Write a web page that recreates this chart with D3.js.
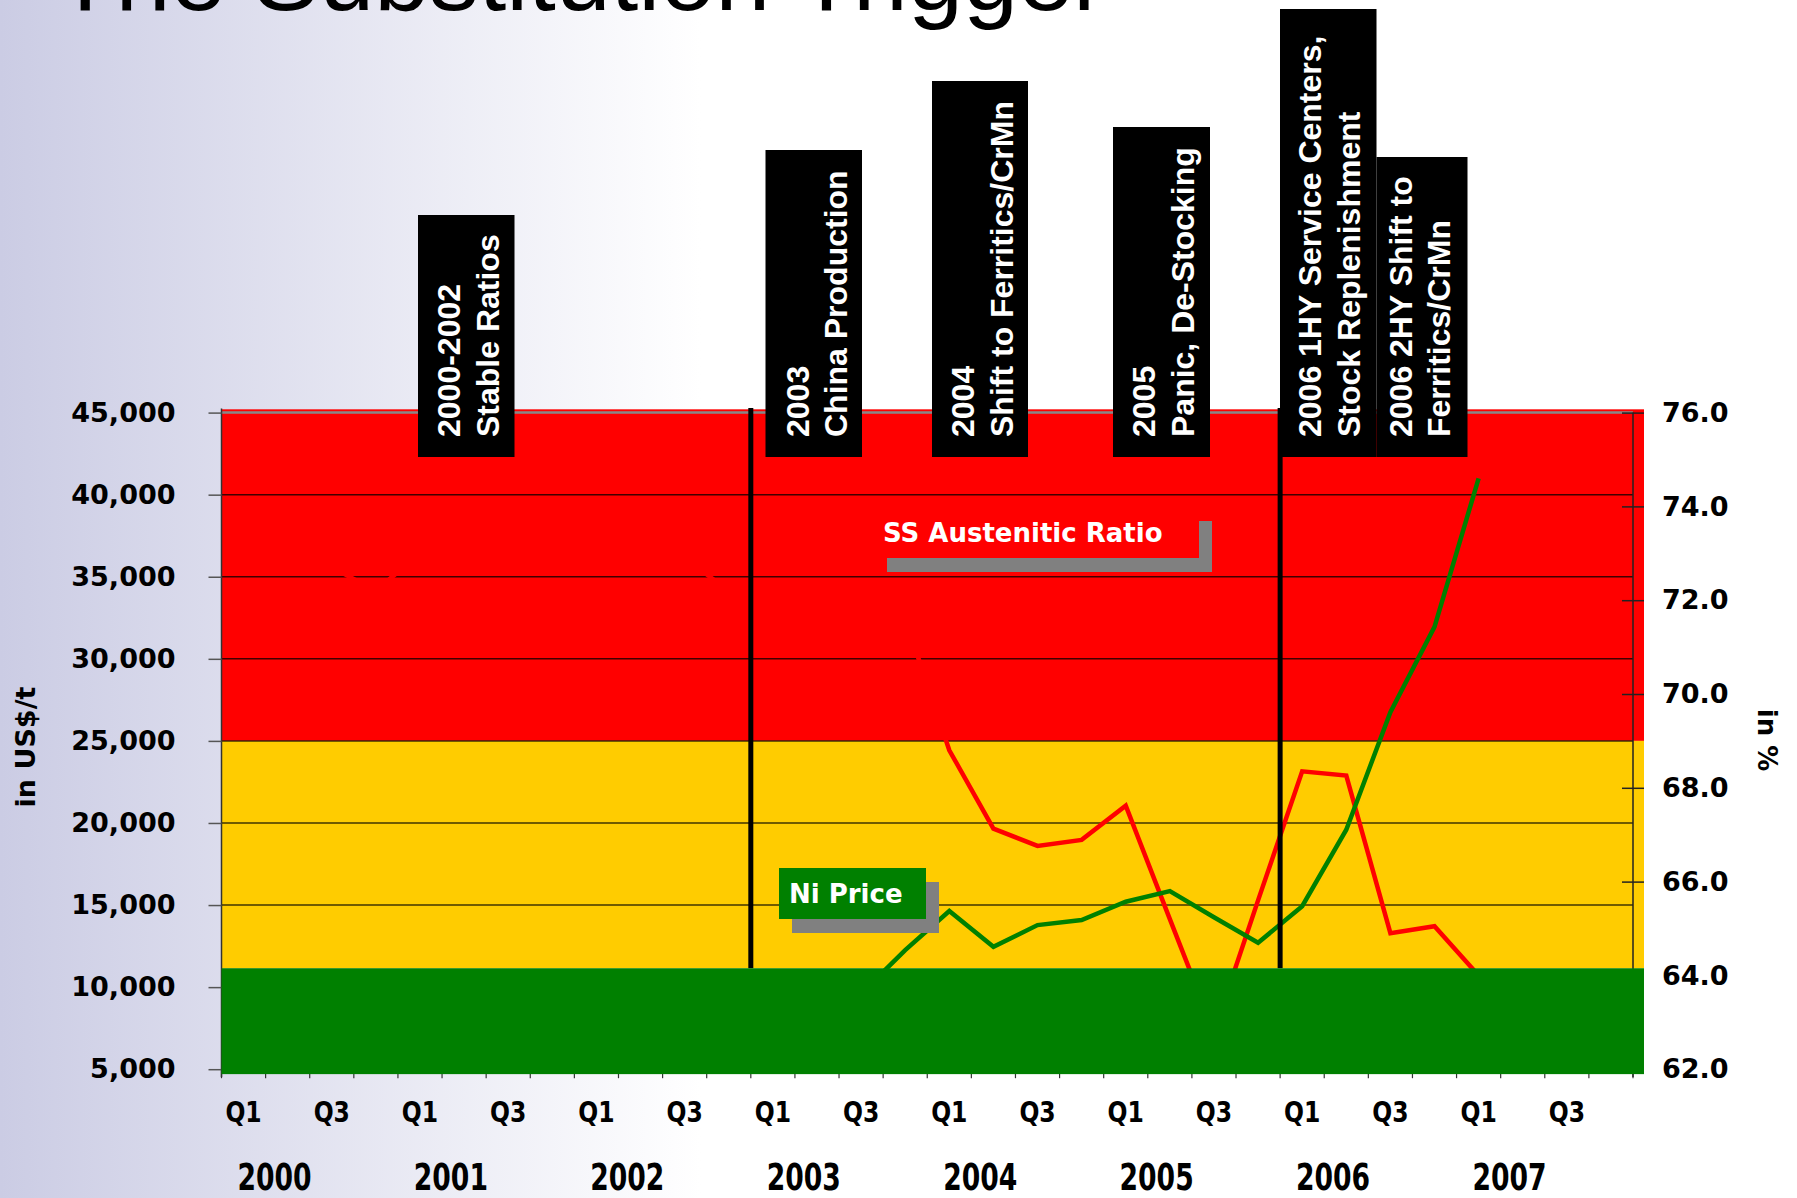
<!DOCTYPE html>
<html>
<head>
<meta charset="utf-8">
<title>The Substitution Trigger</title>
<script src="https://cdn.jsdelivr.net/npm/d3@7"></script>
<style>
  html, body { margin: 0; padding: 0; overflow: hidden; background: #fff; }
  svg { display: block; }
</style>
</head>
<body>
<svg id="chart" width="1797" height="1198"></svg>
<script>
// ---- data ----
var years = ["2000", "2001", "2002", "2003", "2004", "2005", "2006", "2007"];
var quarters = ["Q1", "Q2", "Q3", "Q4"];
var periods = years.flatMap(function (y) { return quarters.map(function (q) { return y + " " + q; }); });

// Ni price, US$/t, 2000 Q1 .. 2007 Q1 (left axis)
var niPrice = [9800, 8900, 8200, 7300, 6500, 6800, 5800, 5200,
               6100, 6900, 6700, 7100, 8300, 8700, 9600, 12260,
               14640, 12460, 13780, 14090, 15200, 15850, 14260, 12700,
               14930, 19590, 26750, 31950, 40990];

// SS austenitic ratio, %, 2000 Q1 .. 2007 Q1 (right axis)
var ssRatio = [73.0, 72.9, 72.7, 72.2, 73.0, 73.0, 73.1, 72.9,
               73.0, 73.1, 72.9, 72.2, 71.9, 72.0, 71.8, 71.6,
               68.8, 67.13, 66.76, 66.89, 67.62, 65.2, 62.8, 65.6,
               68.35, 68.26, 64.9, 65.05, 64.0];

var leftTicks = [5000, 10000, 15000, 20000, 25000, 30000, 35000, 40000, 45000];
var rightTicks = [62, 64, 66, 68, 70, 72, 74, 76];

// traffic-light zones in US$/t
var zoneNames = ["red", "yellow", "green"];
var zoneFrom = [25000, 11150, 4700];
var zoneTo = [45200, 25000, 11150];

var separators = ["2003 Q1", "2006 Q1"];

var notes = [
    ["2000-2002", "Stable Ratios"],
    ["2003", "China Production"],
    ["2004", "Shift to Ferritics/CrMn"],
    ["2005", "Panic, De-Stocking"],
    ["2006 1HY Service Centers,", "Stock Replenishment"],
    ["2006 2HY Shift to", "Ferritics/CrMn"]
];

// ---- layout ----
var W = 1797, H = 1198;
var plot = {left: 221.5, right: 1633, top: 412.6, bottom: 1069.2};
var zoneColor = {red: "#ff0000", yellow: "#ffcc00", green: "#008000"};
var noteBoxes = [
    {x: 418, y: 215, w: 96.5, off: 42},
    {x: 765.5, y: 150, w: 96.5, off: 43},
    {x: 932, y: 81, w: 96, off: 42},
    {x: 1113, y: 127, w: 97, off: 42},
    {x: 1280, y: 9, w: 96.5, off: 41},
    {x: 1376.5, y: 157, w: 91, off: 35}
];
var noteBottom = 457;

var svg = d3.select("#chart");

var x = d3.scaleBand().domain(periods).range([plot.left, plot.right]).padding(0);
var yL = d3.scaleLinear().domain([5000, 45000]).range([plot.bottom, plot.top]);
var yR = d3.scaleLinear().domain([62, 76]).range([plot.bottom, plot.top]);
var bw = x.bandwidth();

// background
var defs = svg.append("defs");
var grad = defs.append("linearGradient").attr("id", "bg")
    .attr("x1", "0").attr("x2", "1").attr("y1", "0").attr("y2", "0");
grad.append("stop").attr("offset", "0").attr("stop-color", "#cbcce4");
grad.append("stop").attr("offset", "0.39").attr("stop-color", "#ffffff");
svg.append("rect").attr("width", W).attr("height", H).attr("fill", "url(#bg)");

// title (cut off at the top)
svg.append("text")
    .attr("x", 55).attr("y", 10)
    .style("font-family", "'Liberation Sans', Arial, sans-serif")
    .style("font-size", "99px")
    .attr("fill", "#000")
    .text("The Substitution Trigger");

function zoneRect(g, i) {
    g.append("rect")
        .attr("x", plot.left)
        .attr("width", plot.right - plot.left + 11)
        .attr("y", yL(zoneTo[i]))
        .attr("height", yL(zoneFrom[i]) - yL(zoneTo[i]))
        .attr("fill", zoneColor[zoneNames[i]]);
}

var zones = svg.append("g");
zoneRect(zones, 0);
zoneRect(zones, 1);

// gridlines
svg.append("g").selectAll("line")
    .data(leftTicks)
    .enter().append("line")
    .attr("x1", plot.left).attr("x2", plot.right)
    .attr("y1", function (d) { return yL(d); })
    .attr("y2", function (d) { return yL(d); })
    .attr("stroke", function (d) { return d === 45000 ? "#888" : "#000"; })
    .attr("stroke-opacity", function (d) { return d === 45000 ? 1 : 0.75; })
    .attr("stroke-width", function (d) { return d === 45000 ? 2.5 : 1.5; });

// series
var lineL = d3.line()
    .x(function (d, i) { return x(periods[i]) + bw / 2; })
    .y(function (d) { return yL(d); });
var lineR = d3.line()
    .x(function (d, i) { return x(periods[i]) + bw / 2; })
    .y(function (d) { return yR(d); });

svg.append("path").datum(ssRatio)
    .attr("d", lineR)
    .attr("fill", "none").attr("stroke", "#ff0000").attr("stroke-width", 4.5);

svg.append("path").datum(niPrice)
    .attr("d", lineL)
    .attr("fill", "none").attr("stroke", "#008000").attr("stroke-width", 4.5);

// period separators
svg.append("g").selectAll("line")
    .data(separators)
    .enter().append("line")
    .attr("x1", function (d) { return x(d); })
    .attr("x2", function (d) { return x(d); })
    .attr("y1", 408).attr("y2", yL(zoneTo[2]))
    .attr("stroke", "#000").attr("stroke-width", 5);

// axes
var tickFont = "'DejaVu Sans', Verdana, sans-serif";
var gLeft = svg.append("g")
    .attr("transform", "translate(" + plot.left + ",0)")
    .call(d3.axisLeft(yL).tickValues(leftTicks).tickFormat(d3.format(","))
        .tickSizeInner(13).tickSizeOuter(0).tickPadding(33));
gLeft.select(".domain").attr("stroke", "#333").attr("stroke-width", 1.5)
    .attr("d", "M0," + (plot.top - 4) + "V1077");
gLeft.selectAll(".tick line").attr("stroke", "#555").attr("stroke-width", 1.5);
gLeft.selectAll(".tick text")
    .style("font-family", tickFont).style("font-weight", "bold").style("font-size", "27px")
    .attr("fill", "#000");

var gRight = svg.append("g")
    .attr("transform", "translate(" + plot.right + ",0)")
    .call(d3.axisRight(yR).tickValues(rightTicks).tickFormat(d3.format(".1f"))
        .tickSizeInner(11).tickSizeOuter(0).tickPadding(18));
gRight.select(".domain").attr("stroke", "#222").attr("stroke-width", 1.5)
    .attr("d", "M0," + plot.top + "V1077");
gRight.selectAll(".tick line").attr("x1", -11).attr("stroke", "#222").attr("stroke-width", 1.5);
gRight.selectAll(".tick text")
    .style("font-family", tickFont).style("font-weight", "bold").style("font-size", "27px")
    .attr("fill", "#000");

// bottom: ticks at quarter boundaries
svg.append("g").selectAll("line")
    .data(periods.concat(["end"]))
    .enter().append("line")
    .attr("x1", function (d) { return d === "end" ? plot.right : x(d); })
    .attr("x2", function (d) { return d === "end" ? plot.right : x(d); })
    .attr("y1", plot.bottom).attr("y2", plot.bottom + 9)
    .attr("stroke", "#333").attr("stroke-width", 1.2);

var narrowFont = "'DejaVu Sans Condensed', 'DejaVu Sans', sans-serif";
var gBottom = svg.append("g")
    .attr("transform", "translate(0," + plot.bottom + ")")
    .call(d3.axisBottom(x)
        .tickValues(periods.filter(function (p) { return /Q1|Q3/.test(p); }))
        .tickFormat(function (d) { return d.split(" ")[1]; })
        .tickSize(0).tickPadding(32));
gBottom.select(".domain").remove();
gBottom.selectAll(".tick text")
    .attr("transform", "scale(0.9,1)")
    .attr("x", function () { return 0; })
    .style("font-family", narrowFont).style("font-stretch", "condensed")
    .style("font-weight", "bold").style("font-size", "29px")
    .attr("fill", "#000");

svg.append("g").selectAll("text")
    .data(years)
    .enter().append("text")
    .attr("transform", function (d) {
        return "translate(" + (x(d + " Q1") + 1.2 * bw) + ",1190) scale(0.8,1)";
    })
    .attr("text-anchor", "middle")
    .style("font-family", narrowFont).style("font-stretch", "condensed")
    .style("font-weight", "bold").style("font-size", "37px")
    .attr("fill", "#000")
    .text(function (d) { return d; });

// green zone sits on top of the lines
zoneRect(svg.append("g"), 2);

// axis titles
svg.append("text")
    .attr("transform", "translate(35,747) rotate(-90)")
    .attr("text-anchor", "middle")
    .style("font-family", tickFont).style("font-weight", "bold").style("font-size", "27px")
    .text("in US$/t");
svg.append("text")
    .attr("transform", "translate(1758,740) rotate(90)")
    .attr("text-anchor", "middle")
    .style("font-family", tickFont).style("font-weight", "bold").style("font-size", "26px")
    .text("in %");

// event notes
var noteG = svg.append("g").selectAll("g")
    .data(notes)
    .enter().append("g");
noteG.append("rect")
    .attr("x", function (d, i) { return noteBoxes[i].x; })
    .attr("y", function (d, i) { return noteBoxes[i].y; })
    .attr("width", function (d, i) { return noteBoxes[i].w; })
    .attr("height", function (d, i) { return noteBottom - noteBoxes[i].y; })
    .attr("fill", "#000");
noteG.each(function (d, i) {
    var b = noteBoxes[i];
    d3.select(this).selectAll("text")
        .data(d)
        .enter().append("text")
        .attr("transform", function (t, j) {
            return "translate(" + (b.x + b.off + j * 38.5) + "," + (noteBottom - 20) + ") rotate(-90)";
        })
        .style("font-family", "'Liberation Sans', Arial, sans-serif")
        .style("font-weight", "bold").style("font-size", "32px")
        .attr("fill", "#fff")
        .text(function (t) { return t; });
});

// series labels
function seriesLabel(bx, by, bwid, bh, fill, label, tx, ty) {
    var g = svg.append("g");
    g.append("rect").attr("x", bx + 13).attr("y", by + 14).attr("width", bwid).attr("height", bh)
        .attr("fill", "#808080");
    g.append("rect").attr("x", bx).attr("y", by).attr("width", bwid).attr("height", bh)
        .attr("fill", fill);
    g.append("text").attr("x", tx).attr("y", ty)
        .style("font-family", tickFont).style("font-weight", "bold").style("font-size", "26px")
        .attr("fill", "#fff")
        .text(label);
}
seriesLabel(874, 507, 325, 51, zoneColor.red, "SS Austenitic Ratio", 883, 542);
seriesLabel(779, 868, 147, 51, zoneColor.green, "Ni Price", 789, 903);
</script>
</body>
</html>
